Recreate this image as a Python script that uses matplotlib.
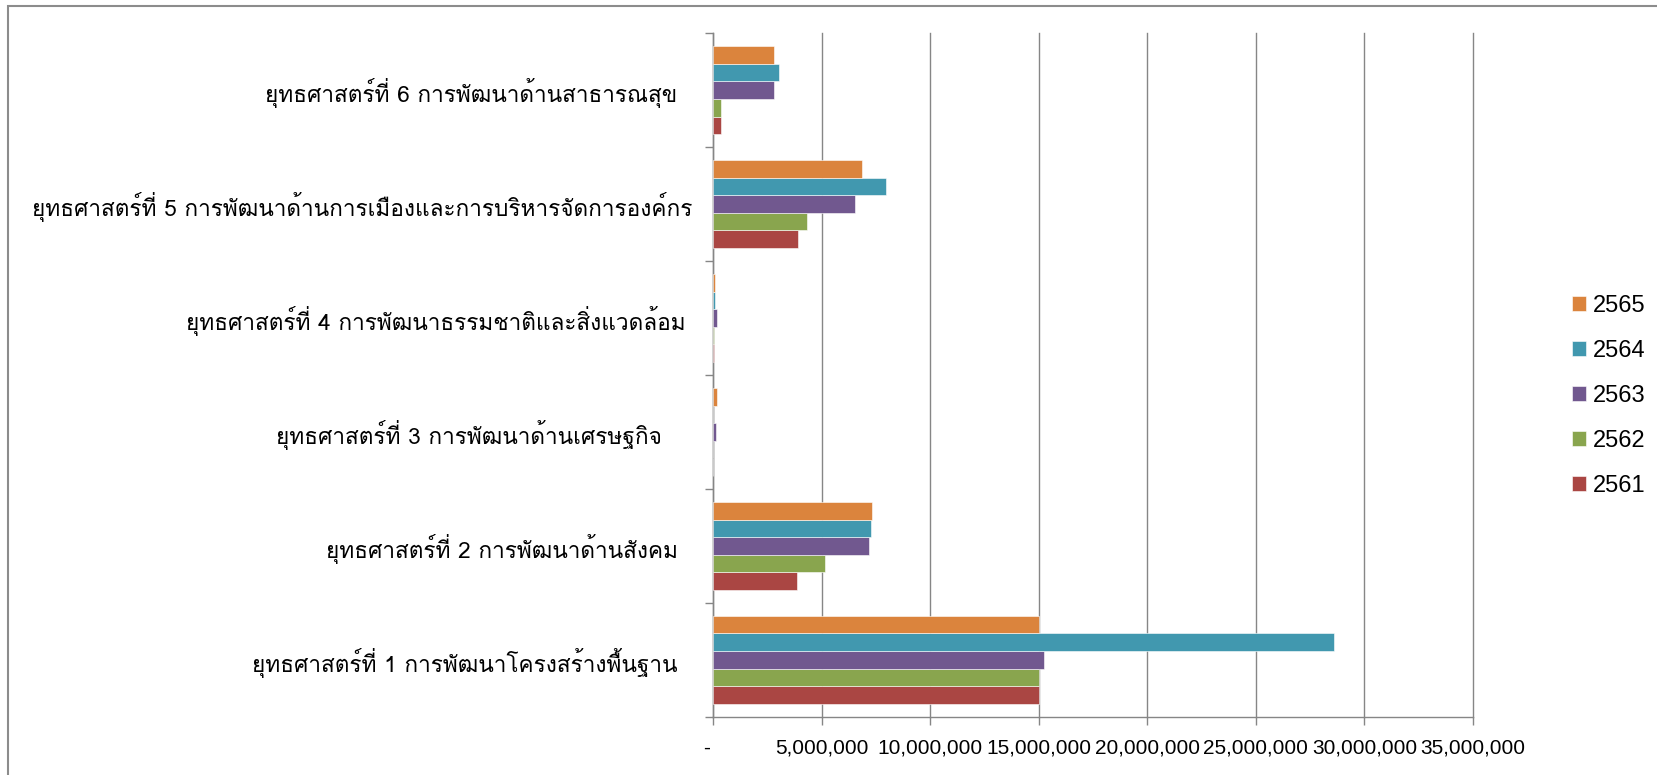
import matplotlib
matplotlib.use("Agg")
import matplotlib.pyplot as plt
import matplotlib.patches as patches
from matplotlib.ticker import FuncFormatter, MultipleLocator
import numpy as np

# strategy names (bottom to top as drawn), trailing spaces as in the source sheet
categories = [
    "ยุทธศาสตร์ที่ 1 การพัฒนาโครงสร้างพื้นฐาน  ",
    "ยุทธศาสตร์ที่ 2 การพัฒนาด้านสังคม  ",
    "ยุทธศาสตร์ที่ 3 การพัฒนาด้านเศรษฐกิจ    ",
    "ยุทธศาสตร์ที่ 4 การพัฒนาธรรมชาติและสิ่งแวดล้อม ",
    "ยุทธศาสตร์ที่ 5 การพัฒนาด้านการเมืองและการบริหารจัดการองค์กร",
    "ยุทธศาสตร์ที่ 6 การพัฒนาด้านสาธารณสุข  ",
]
years = ["2561", "2562", "2563", "2564", "2565"]
v2561 = [15000000, 3870000, 0, 50000, 3930000, 370000]
v2562 = [15000000, 5170000, 0, 50000, 4330000, 370000]
v2563 = [15260000, 7190000, 120000, 170000, 6550000, 2800000]
v2564 = [28600000, 7260000, 0, 80000, 7950000, 3020000]
v2565 = [15000000, 7340000, 170000, 100000, 6860000, 2820000]
series = [v2561, v2562, v2563, v2564, v2565]
colors = ["#AA4643", "#89A54E", "#71588F", "#4198AF", "#DB843D"]

thai_family = ["Loma", "Noto Sans Thai Looped", "DejaVu Sans"]
latin_family = ["Liberation Sans", "DejaVu Sans"]

fig = plt.figure(figsize=(16.58, 7.75), dpi=100)
ax = fig.add_axes([713 / 1658, 1 - 716.7 / 775, 760 / 1658, 683.4 / 775])

n = len(series)
bar_h = 1 / 6.5
y = np.arange(len(categories))
for i, (vals, c) in enumerate(zip(series, colors)):
    offs = (i - (n - 1) / 2) * bar_h
    ax.barh(y + offs, vals, height=bar_h, color=c, label=years[i],
            edgecolor="white", linewidth=0.4, zorder=3)

grey = "#868686"
ax.set_xlim(0, 35000000)
ax.set_ylim(-0.5, len(categories) - 0.5)
ax.xaxis.set_major_locator(MultipleLocator(5000000))
ax.xaxis.set_major_formatter(FuncFormatter(
    lambda v, p: "-  " if v == 0 else f"{v:,.0f}"))
ax.grid(axis="x", color=grey, linewidth=1.0, zorder=0)
ax.set_axisbelow(True)
for gl in ax.get_xgridlines():
    gl.set_clip_on(False)

ax.set_yticks(y)
ax.set_yticklabels(categories, family=thai_family, fontsize=16.3)
ax.set_yticks(np.arange(-0.5, len(categories)), minor=True)
ax.tick_params(axis="y", which="major", length=0, pad=14.5)
ax.tick_params(axis="y", which="minor", length=5.5, width=1.0, color=grey)
ax.tick_params(axis="x", length=6, width=1.0, color=grey, pad=10,
               labelsize=15)
for lab in ax.get_xticklabels():
    lab.set_family(latin_family)

for s in ["top", "right"]:
    ax.spines[s].set_visible(False)
for s in ["left", "bottom"]:
    ax.spines[s].set_color(grey)
    ax.spines[s].set_linewidth(1.0)

h, l = ax.get_legend_handles_labels()
fig.legend(h[::-1], l[::-1], loc="center left",
           bbox_to_anchor=(1551 / 1658, 1 - 396 / 775),
           frameon=False, prop={"family": latin_family, "size": 17},
           handlelength=0.59, handleheight=0.59, handletextpad=0.3,
           labelspacing=0.97)

# outer chart border
fig.patches.append(patches.Rectangle((8 / 1658, -0.1), 1.2, 1 - 6 / 775 + 0.1,
                                     transform=fig.transFigure, fill=False,
                                     edgecolor="#8c8c8c", linewidth=1.5))

fig.savefig("out.png", dpi=100)
